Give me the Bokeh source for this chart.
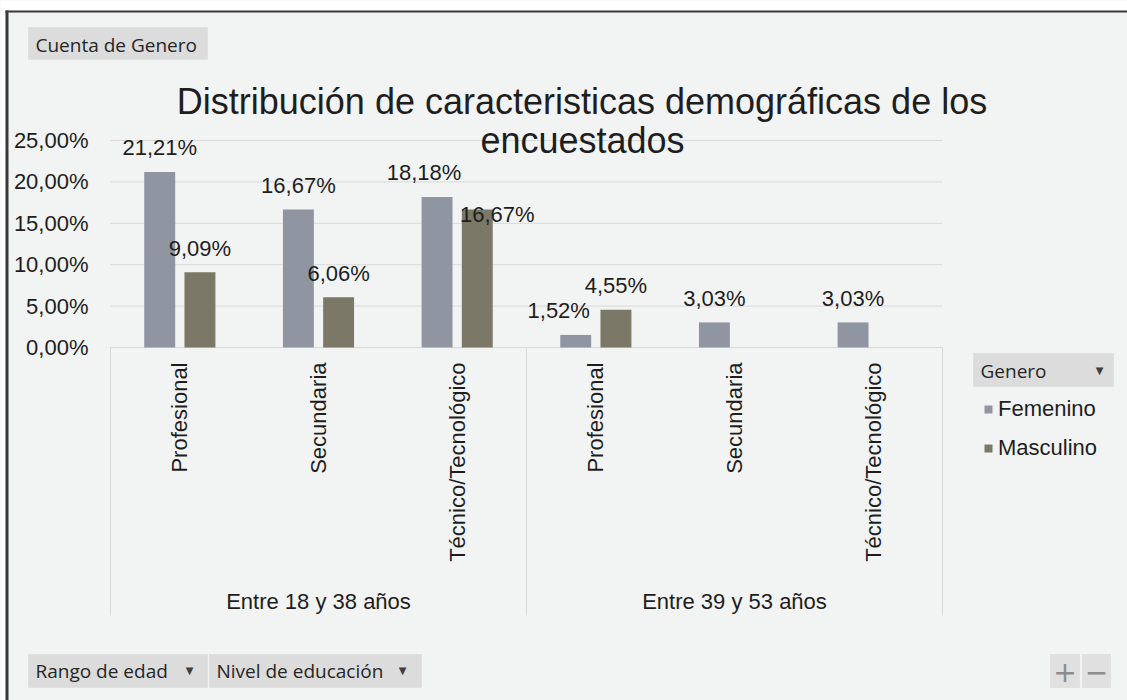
import math
from bokeh.plotting import figure
from bokeh.models import (ColumnDataSource, FixedTicker, Range1d, Label,
                          BoxAnnotation, Legend, LegendItem)
from bokeh.core.properties import value
from bokeh.embed import file_html
from bokeh.resources import INLINE

# ---------------- data ----------------
age_groups = ["Entre 18 y 38 años", "Entre 39 y 53 años"]
education = ["Profesional", "Secundaria", "Técnico/Tecnológico"]
series_names = ["Femenino", "Masculino"]
femenino = [21.21, 16.67, 18.18, 1.52, 3.03, 3.03]
masculino = [9.09, 6.06, 16.67, 4.55, None, None]
y_ticks = [0, 5, 10, 15, 20, 25]
y_tick_labels = ["0,00%", "5,00%", "10,00%", "15,00%", "20,00%", "25,00%"]
chart_title = ["Distribución de caracteristicas demográficas de los", "encuestados"]
value_field_label = "Cuenta de Genero"
axis_field_labels = ["Rango de edad", "Nivel de educación"]
legend_field_label = "Genero"

# ---------------- styling / layout ----------------
BG = "#F2F3F3"
FEM_C = "#8F96A1"
MAS_C = "#7B7867"
GRID_C = "#D9D9D9"
TXT_C = "#1E1E1E"
BTN_FILL = "#DCDCDC"
BTN_LINE = "#D2D2D2"
BORDER_C = "#3A3A3A"
FONT = "Liberation Sans"
UI_FONT = "Open Sans"

OX, OY = 0, 0          # page position of the figure's top-left corner
W, H = 1127, 700
PLOT_L, PLOT_R, PLOT_T, ZERO_Y = 110, 942, 140, 347
n_cat = len(age_groups) * len(education)
px_per_y = (ZERO_Y - PLOT_T) / y_ticks[-1]
px_per_x = (PLOT_R - PLOT_L) / n_cat
x_start = -(PLOT_L - OX) / px_per_x
x_end = n_cat + (OX + W - PLOT_R) / px_per_x
y_end = (ZERO_Y - OY) / px_per_y
y_start = -(OY + H - ZERO_Y) / px_per_y
AXIS_BOTTOM_PX = 615  # bottom of the category box (page px)
y_box_bottom = -(AXIS_BOTTOM_PX - ZERO_Y) / px_per_y

BAR_W = 0.223
DODGE = 0.145
LABEL_GAP = -24
# label nudges (px) where Excel moved labels to avoid overlaps
fem_nudge_x = [0, 0, -13, -17, 0, 0]
mas_nudge_x = [0, 0, 20, 0, 0, 0]
mas_nudge_y = [0, 0, 29, 0, 0, 0]


def sx(px):
    return px - OX


def sy(py):
    return OY + H - py


def fmt(v):
    return f"{v:.2f}".replace(".", ",") + "%"


factors = [(a, e) for a in age_groups for e in education]
cat_x = [i + 0.5 for i in range(len(factors))]
group_x = [sum(cat_x[g * len(education):(g + 1) * len(education)]) / len(education)
           for g in range(len(age_groups))]

p = figure(
    x_range=Range1d(x_start, x_end), y_range=Range1d(y_start, y_end),
    width=W, height=H, output_backend="svg", toolbar_location=None,
    x_axis_location=None, min_border=0,
    background_fill_color=BG, border_fill_color=BG, outline_line_color=None,
)

p.xgrid.grid_line_color = None
p.ygrid.grid_line_color = None
p.yaxis.fixed_location = 0
p.yaxis.ticker = FixedTicker(ticks=y_ticks)
p.yaxis.major_label_overrides = {t: l for t, l in zip(y_ticks, y_tick_labels)}
p.yaxis.axis_line_color = None
p.yaxis.major_tick_line_color = None
p.yaxis.minor_tick_line_color = None
p.yaxis.major_label_standoff = 16
p.yaxis.major_label_text_font = FONT
p.yaxis.major_label_text_font_size = "22px"
p.yaxis.major_label_text_color = TXT_C

# horizontal gridlines over the plot area only
p.segment(x0=[0] * len(y_ticks), x1=[n_cat] * len(y_ticks), y0=y_ticks, y1=y_ticks,
          line_color=GRID_C, line_width=1)
# category box separators
sep_x = [0, len(education), 2 * len(education)]
p.segment(x0=sep_x, y0=[0] * 3, x1=sep_x, y1=[y_box_bottom] * 3, line_color=GRID_C, line_width=1)

nan = float("nan")
src = ColumnDataSource(dict(
    xf=[x - DODGE for x in cat_x],
    xm=[x + DODGE for x in cat_x],
    fem=femenino,
    mas=[nan if v is None else v for v in masculino],
))
r_fem = p.vbar(x="xf", top="fem", bottom=0, width=BAR_W,
               fill_color=FEM_C, line_color=None, source=src)
r_mas = p.vbar(x="xm", top="mas", bottom=0, width=BAR_W,
               fill_color=MAS_C, line_color=None, source=src)

# data labels
for vals, off, nx, ny in [(femenino, -DODGE, fem_nudge_x, [0] * 6),
                          (masculino, DODGE, mas_nudge_x, mas_nudge_y)]:
    idx = [i for i, v in enumerate(vals) if v is not None]
    ls = ColumnDataSource(dict(
        x=[cat_x[i] + off for i in idx],
        y=[vals[i] for i in idx],
        t=[fmt(vals[i]) for i in idx],
        xo=[nx[i] for i in idx],
        yo=[LABEL_GAP + ny[i] for i in idx],
    ))
    p.text(x="x", y="y", text="t", x_offset="xo", y_offset="yo",
           text_align="center", text_baseline="alphabetic", text_font=value(FONT),
           text_font_size="22px", text_color=TXT_C, source=ls)

# education labels (rotated)
p.text(x=cat_x, y=[0] * len(factors), text=[f[1] for f in factors], angle=math.pi / 2,
       text_align="right", text_baseline="middle", y_offset=15, text_font=value(FONT),
       text_font_size="22px", text_color=TXT_C)
# age-group labels
p.text(x=group_x, y=[0] * len(age_groups), text=age_groups, y_offset=254,
       text_align="center", text_baseline="alphabetic", text_font=value(FONT),
       text_font_size="22px", text_color=TXT_C)

# title
for txt, cx, base in [(chart_title[0], 581.5, 101), (chart_title[1], 582, 140)]:
    p.add_layout(Label(x=sx(cx), y=sy(base), x_units="screen", y_units="screen", text=txt,
                       text_align="center", text_baseline="alphabetic", text_font=FONT,
                       text_font_size="36px", text_color=TXT_C))


def box(l, r, t, b, fill=BTN_FILL, line=BTN_LINE):
    p.add_layout(BoxAnnotation(left=sx(l), right=sx(r), top=sy(t), bottom=sy(b),
                               left_units="screen", right_units="screen",
                               top_units="screen", bottom_units="screen",
                               fill_color=fill, fill_alpha=1, line_color=line,
                               line_width=1, level="annotation"))


def ui_text(txt, x, y, size="19px", color="#262626", font=UI_FONT, align="left"):
    p.add_layout(Label(x=sx(x), y=sy(y), x_units="screen", y_units="screen", text=txt,
                       text_align=align, text_baseline="middle", text_font=font,
                       text_font_size=size, text_color=color))


# chart border (left and top) with the white sheet outside it
box(0, 1127, 0, 10, fill="#FFFFFF", line=None)
box(0, 5, 0, 700, fill="#FFFFFF", line=None)
box(5, 8, 10, 700, fill=BORDER_C, line=None)
box(5, 1127, 10, 12, fill=BORDER_C, line=None)

# field buttons
box(28, 207, 27, 59)
ui_text(value_field_label, 35, 44)
box(28, 207, 654, 687)
ui_text(axis_field_labels[0], 35, 670)
ui_text("▼", 189, 670, size="10px", color="#404040", font="DejaVu Sans", align="center")
box(209, 421, 654, 687)
ui_text(axis_field_labels[1], 216, 670)
ui_text("▼", 402, 670, size="10px", color="#404040", font="DejaVu Sans", align="center")
box(973, 1113, 353, 386)
ui_text(legend_field_label, 980, 370)
ui_text("▼", 1099, 370, size="10px", color="#404040", font="DejaVu Sans", align="center")
# zoom buttons
box(1050, 1079, 654, 687, fill="#E0E0E0")
box(1082, 1110, 654, 687, fill="#E0E0E0")
ui_text("+", 1064.5, 671, size="28px", color="#8C8C8C", font="DejaVu Sans", align="center")
ui_text("−", 1096, 671, size="28px", color="#8C8C8C", font="DejaVu Sans", align="center")

# legend
legend = Legend(items=[LegendItem(label=series_names[0], renderers=[r_fem]),
                       LegendItem(label=series_names[1], renderers=[r_mas])],
                location=(sx(983), sy(461)), orientation="vertical",
                glyph_width=10, glyph_height=10, label_standoff=5, padding=0, margin=0,
                spacing=13, label_text_font=FONT, label_text_font_size="22px",
                label_text_color=TXT_C, background_fill_alpha=0, border_line_color=None)
p.add_layout(legend)

open("out.html", "w").write(file_html(p, INLINE))
